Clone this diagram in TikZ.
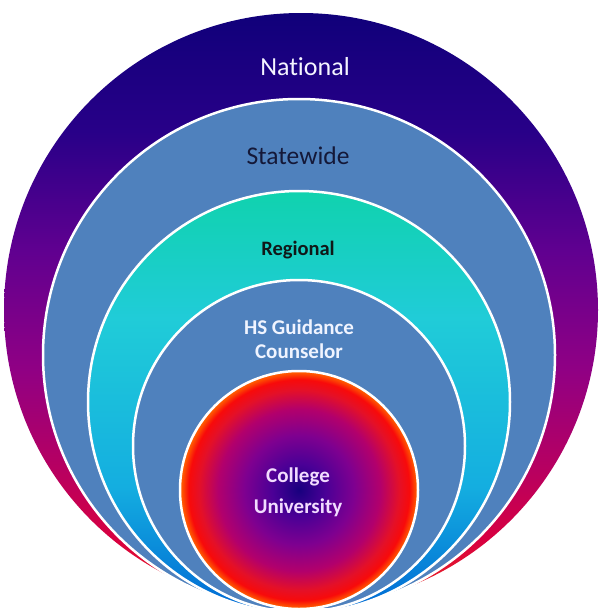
\documentclass[tikz,border=0pt]{standalone}
\usepackage{fontspec}
\setmainfont[Ligatures=NoCommon]{Carlito}
\definecolor{ringblue}{HTML}{4F81BD}
\definecolor{natA}{HTML}{10007A}
\definecolor{natB}{HTML}{280088}
\definecolor{natC}{HTML}{600090}
\definecolor{natD}{HTML}{900084}
\definecolor{natE}{HTML}{B80060}
\definecolor{natF}{HTML}{D80040}
\definecolor{natG}{HTML}{F03018}
\definecolor{regA}{HTML}{10D2AE}
\definecolor{regB}{HTML}{20CCD8}
\definecolor{regC}{HTML}{14AEE0}
\definecolor{regD}{HTML}{0068D4}
\definecolor{colA}{HTML}{18007E}
\definecolor{colB}{HTML}{4A0096}
\definecolor{colC}{HTML}{7E0090}
\definecolor{colD}{HTML}{B2006C}
\definecolor{colE}{HTML}{E41028}
\definecolor{colF}{HTML}{F80A0A}
\definecolor{colG}{HTML}{FF5A00}
\definecolor{txtnat}{HTML}{F4F4FF}
\definecolor{txtstate}{HTML}{141838}
\definecolor{txtreg}{HTML}{101818}
\definecolor{txths}{HTML}{F0F4FF}
\definecolor{txtcol}{HTML}{F2DCFF}
\pgfdeclareverticalshading{nationalshade}{100bp}{color(0bp)=(natG); color(25bp)=(natG); color(30.6bp)=(natF); color(36.5bp)=(natE); color(45bp)=(natD); color(55bp)=(natC); color(65bp)=(natB); color(75bp)=(natA); color(100bp)=(natA)}
\pgfdeclareverticalshading{regionalshade}{100bp}{color(0bp)=(regD); color(25bp)=(regD); color(40bp)=(regC); color(60bp)=(regB); color(75bp)=(regA); color(100bp)=(regA)}
\pgfdeclareradialshading{collegeshade}{\pgfpoint{0bp}{0bp}}{color(0bp)=(colA); color(5.5bp)=(colB); color(11.5bp)=(colC); color(17bp)=(colD); color(21bp)=(colE); color(23.2bp)=(colF); color(24.7bp)=(colG); color(50bp)=(colG)}
\begin{document}
\begin{tikzpicture}[x=1pt,y=-1pt,
  ring/.style={draw=white, line width=2.5pt},
  lbl/.style={anchor=base, inner sep=0pt}]
\useasboundingbox (0,0) rectangle (603,608);
\clip (0,0) rectangle (603,608);
\fill[white] (0,0) rectangle (603,608);
\path[shading=nationalshade] (301,310) circle[radius=297pt];
\path[ring, fill=ringblue] (299,355) circle[radius=256pt];
\path[ring, shading=regionalshade] (299,402) circle[radius=211pt];
\path[ring, fill=ringblue] (299,446) circle[radius=166pt];
\path[ring, shading=collegeshade] (299,490) circle[radius=119pt];
\node[lbl, text=txtnat, font=\fontsize{26}{30}\selectfont] (national) at (305,75) {National};
\node[lbl, text=txtstate, font=\fontsize{25.5}{30}\selectfont] (statewide) at (298,164) {Statewide};
\node[lbl, text=txtreg, font=\bfseries\fontsize{20.5}{24}\selectfont] (regional) at (298,255) {Regional};
\node[lbl, text=txths, font=\bfseries\fontsize{21}{24}\selectfont] (hs1) at (299,334) {HS Guidance};
\node[lbl, text=txths, font=\bfseries\fontsize{21}{24}\selectfont] (hs2) at (299,358) {Counselor};
\node[lbl, text=txtcol, font=\bfseries\fontsize{21}{24}\selectfont] (col1) at (298,482) {College};
\node[lbl, text=txtcol, font=\bfseries\fontsize{21}{24}\selectfont] (col2) at (298,513) {University};
\end{tikzpicture}
\end{document}
